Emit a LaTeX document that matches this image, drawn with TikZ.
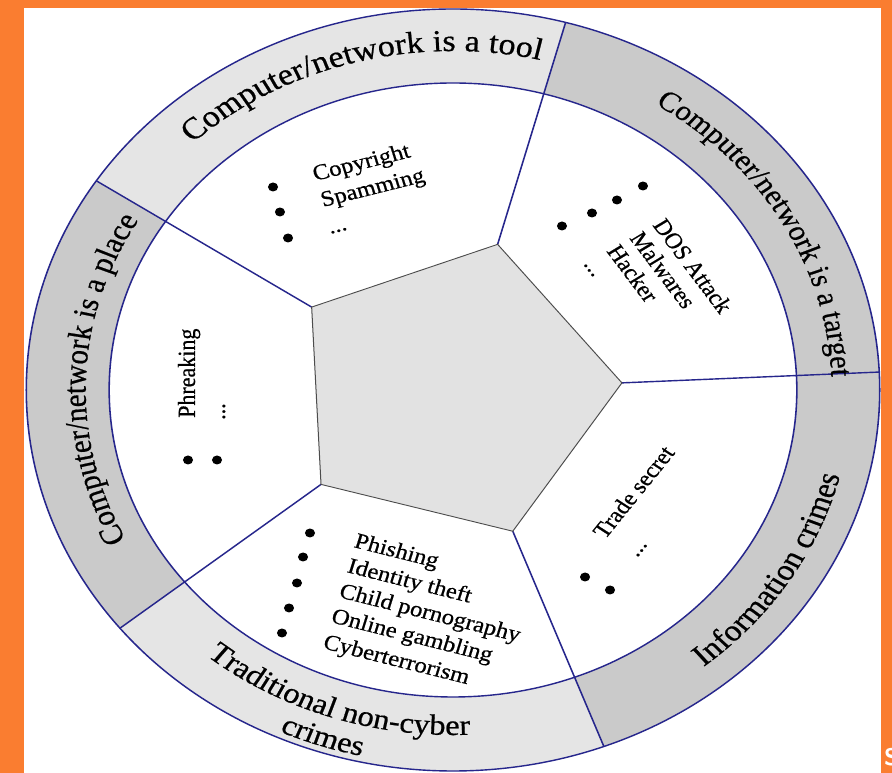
\documentclass[tikz,border=0pt]{standalone}
\usepackage{fontspec}
\setmainfont{Liberation Serif}[FakeBold=0.6]
\usetikzlibrary{decorations.text}

\definecolor{frameorange}{RGB}{250,125,48}
\definecolor{ringblue}{RGB}{38,38,140}
\definecolor{bandlight}{RGB}{229,229,229}
\definecolor{banddark}{RGB}{202,202,202}
\definecolor{coregray}{RGB}{226,226,226}

\newcommand\listfont{\fontsize{22}{26}\selectfont}

\begin{document}
\begin{tikzpicture}[x=1pt,y=1pt,
  ringline/.style={draw=ringblue, line width=1.4pt},
  coreline/.style={draw=black!70, line width=0.9pt},
  listtext/.style={font=\listfont, inner sep=0pt, anchor=base west},
  bul/.style={circle, fill=black, inner sep=0pt, minimum size=9pt},
  arclabel/.style 2 args={decorate, decoration={text along path, text align=center,
      text={|\fontsize{#1}{#1}\selectfont|#2}}},
]
\useasboundingbox (0,0) rectangle (892,773);
% page frame
\fill[frameorange] (0,0) rectangle (892,773);
\fill[white] (24,0) rectangle (881,765);
\node[white, font=\sffamily\bfseries\fontsize{24}{28}\selectfont, anchor=west, inner sep=0pt] (cut) at (884,16) {S};

\begin{scope}[transform canvas={shift={(453,383)}, xscale=1.12}]
  % outer ring, split into five bands
  \foreach \a/\c in {2.7/banddark, 74.7/bandlight, 146.7/banddark, 218.7/bandlight, 290.7/banddark}{
    \pgfmathsetmacro\b{\a+72}
    \fill[\c] (\a:381) arc[start angle=\a, end angle=\b, radius=381]
      -- (\b:307) arc[start angle=\b, end angle=\a, radius=307] -- cycle;
  }
  % pentagon corners and the outer ends of the dividers
  \foreach \i/\a in {1/2.7, 2/74.7, 3/146.7, 4/218.7, 5/290.7}{
    \coordinate (v\i) at (\a:151);
    \coordinate (o\i) at (\a:381);
  }
  \fill[coregray] (v1) -- (v2) -- (v3) -- (v4) -- (v5) -- cycle;
  \draw[ringline] (0,0) circle (381);
  \draw[ringline] (0,0) circle (307);
  \foreach \i in {1,...,5}{ \draw[ringline] (v\i) -- (o\i); }
  \draw[coreline] (v1) -- (v2) -- (v3) -- (v4) -- (v5) -- cycle;

  % band titles
  \path[arclabel={30.5}{Computer/network is a tool}] (147:339) arc[start angle=147, end angle=63, radius=339];
  \path[arclabel={28}{Computer/network is a target}] (70:338) arc[start angle=70, end angle=-10, radius=338];
  \path[arclabel={29}{Computer/network is a place}] (218:328) arc[start angle=218, end angle=138, radius=328];
  \path[arclabel={30}{Information crimes}] (-67.5:356) arc[start angle=-67.5, end angle=2.5, radius=356];
  \path[arclabel={29}{Traditional non-cyber}] (-143.5:345) arc[start angle=-143.5, end angle=-73.5, radius=345];
  \path[arclabel={29}{crimes}] (-143.5:375) arc[start angle=-143.5, end angle=-73.5, radius=375];

  % tool sector
  \node[listtext, rotate=15.6] (cp) at (-123.2,209) {Copyright};
  \node[listtext, rotate=15.6] (sp) at (-116.1,183) {Spamming};
  \node[listtext, rotate=15.6] (tm) at (-109.8,156) {...};
  \node[bul] (tb1) at (-160.7,203) {};
  \node[bul] (tb2) at (-154.5,178) {};
  \node[bul] (tb3) at (-147.3,152) {};

  % target sector
  \node[listtext, rotate=-56] (dos) at (177.7,165) {DOS Attack};
  \node[listtext, rotate=-56] (mal) at (157.1,152) {Malwares};
  \node[listtext, rotate=-56] (hac) at (136.6,139) {Hacker};
  \node[listtext, rotate=-56] (gm) at (116.1,126) {...};
  \node[bul] (gb1) at (97.3,164) {};
  \node[bul] (gb2) at (124.1,177) {};
  \node[bul] (gb3) at (146.4,190) {};
  \node[bul] (gb4) at (169.6,204) {};

  % place sector
  \node[listtext, rotate=90] (phr) at (-230.4,-28) {Phreaking};
  \node[listtext, rotate=90] (pm) at (-203.6,-30) {...};
  \node[bul] (pb1) at (-236.6,-70) {};
  \node[bul] (pb2) at (-210.7,-70) {};

  % information sector
  \node[listtext, rotate=54.1] (trs) at (135.7,-150) {Trade secret};
  \node[listtext, rotate=54.1] (im) at (164.3,-168) {...};
  \node[bul] (ib1) at (117.9,-187) {};
  \node[bul] (ib2) at (140.2,-200) {};

  % traditional sector
  \node[listtext, rotate=-15.6] (phi) at (-89.3,-157) {Phishing};
  \node[listtext, rotate=-15.6] (idt) at (-95.5,-182) {Identity theft};
  \node[listtext, rotate=-15.6] (chp) at (-102.7,-207) {Child pornography};
  \node[listtext, rotate=-15.6] (onl) at (-109.8,-232) {Online gambling};
  \node[listtext, rotate=-15.6] (cyt) at (-117,-258) {Cyberterrorism};
  \node[bul] (rb1) at (-127.7,-143) {};
  \node[bul] (rb2) at (-133.9,-167) {};
  \node[bul] (rb3) at (-139.3,-193) {};
  \node[bul] (rb4) at (-146.4,-218) {};
  \node[bul] (rb5) at (-152.7,-243) {};
\end{scope}
\end{tikzpicture}
\end{document}
